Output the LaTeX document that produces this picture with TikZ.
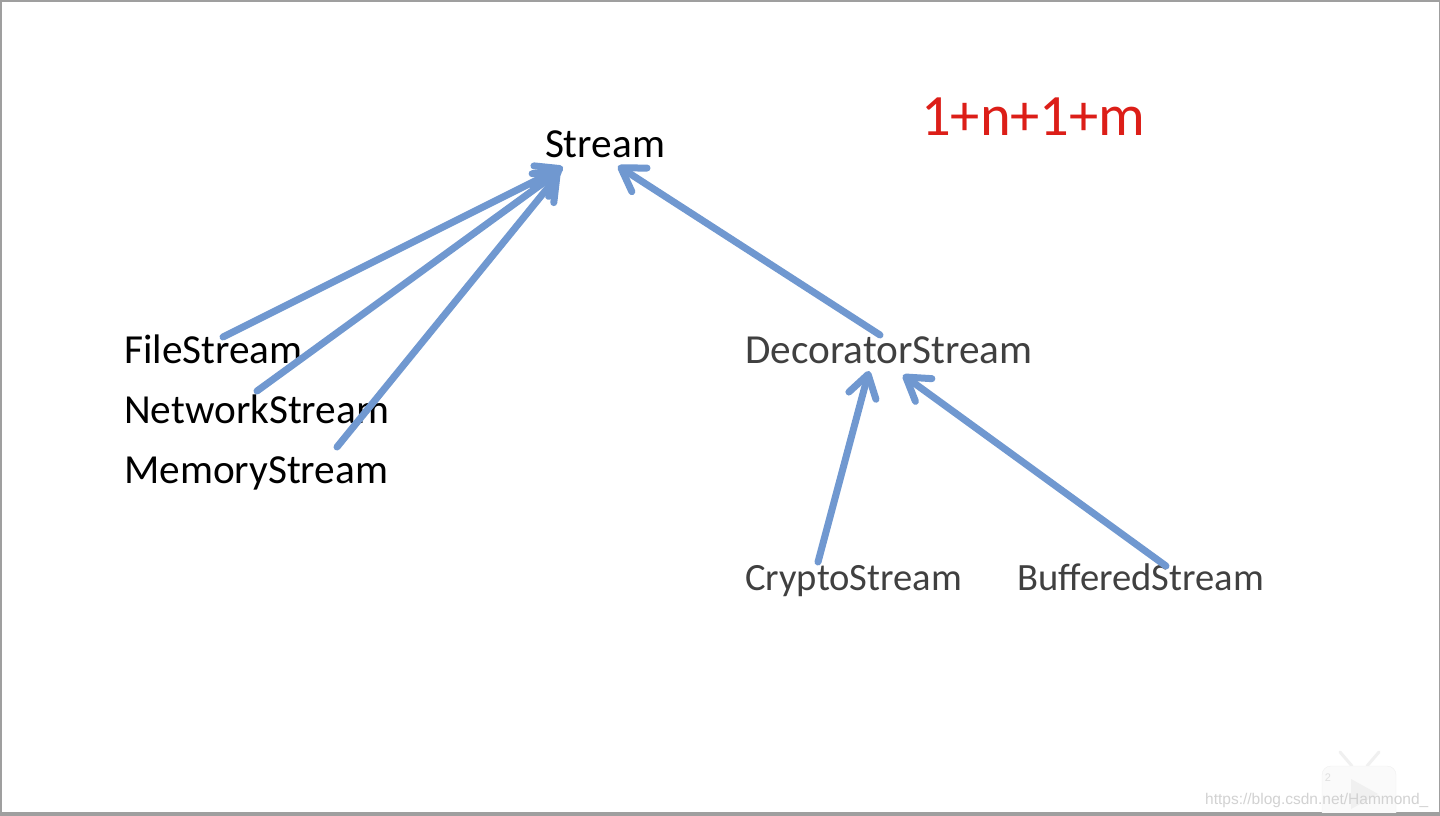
\documentclass[tikz,border=0pt]{standalone}
\usepackage{fontspec}
\setmainfont{Carlito}
\newfontfamily\wmfont{Liberation Sans}
\usetikzlibrary{arrows.meta}
\definecolor{arrblue}{RGB}{112,152,208}
\definecolor{darktext}{RGB}{64,64,64}
\definecolor{notered}{RGB}{220,30,24}
\begin{document}
\begin{tikzpicture}[
    x=1pt, y=-1pt,
    cls/.style={inner sep=0pt, anchor=base west, font=\fontsize{41.3}{49}\selectfont},
    sub/.style={inner sep=0pt, anchor=base west, text=darktext, font=\fontsize{38.6}{46}\selectfont},
    arr/.style={line width=7pt, draw=arrblue, line cap=round,
        -{Straight Barb[length=22pt, width=28pt, line cap=round, line join=round]}}
]
\useasboundingbox (0,0) rectangle (1440,816);

% Slide frame
\fill[gray!75] (0,0) rectangle (1440,816);
\fill[white] (2,2) rectangle (1439,812);

% Class names
\node[cls, anchor=base] (stream) at (605,157) {Stream};
\node[cls] (file) at (124,363) {FileStream};
\node[cls] (network) at (124,423) {NetworkStream};
\node[cls] (memory) at (124,483) {MemoryStream};
\node[cls, text=darktext] (decorator) at (745,363) {DecoratorStream};
\node[sub] (crypto) at (745,590) {CryptoStream};
\node[sub] (buffered) at (1017,590) {BufferedStream};

\node[inner sep=0pt, anchor=base west, text=notered, font=\fontsize{58.5}{66}\selectfont] (count) at (921,135) {1+n+1+m};

% Inheritance arrows
\draw[arr] ([xshift=99pt, yshift=26pt]file.base west) -- ([xshift=-42pt, yshift=-10pt]stream.base);
\draw[arr] ([xshift=133pt, yshift=32pt]network.base west) -- ([xshift=-44pt, yshift=-13pt]stream.base);
\draw[arr] ([xshift=213pt, yshift=36pt]memory.base west) -- ([xshift=-46pt, yshift=-17pt]stream.base);
\draw[arr] ([xshift=135pt, yshift=28pt]decorator.base west) -- ([xshift=13pt, yshift=-9pt]stream.base);
\draw[arr] ([xshift=73pt, yshift=28pt]crypto.base west) -- ([xshift=124pt, yshift=-8pt]decorator.base west);
\draw[arr] ([xshift=149pt, yshift=24pt]buffered.base west) -- ([xshift=158pt, yshift=-12pt]decorator.base west);

% Watermark
\begin{scope}
\clip (2,2) rectangle (1439,812);
\draw[gray!12, line width=3pt, line cap=round] (1340,752) -- (1352,766) (1379,752) -- (1367,766);
\draw[gray!12, fill=gray!4, rounded corners=9pt] (1322,766) rectangle (1396,830);
\fill[gray!12] (1351,779) -- (1351,809) -- (1378,794) -- cycle;
\node[inner sep=0pt, text=gray!25, font=\wmfont\fontsize{11}{13}\selectfont] (wmnum) at (1328,778) {2};
\end{scope}
\node[inner sep=0pt, anchor=base west, text=gray!35, font=\wmfont\fontsize{15.5}{19}\selectfont] (wmurl) at (1205,804) {https://blog.csdn.net/Hammond\_};

\end{tikzpicture}
\end{document}
